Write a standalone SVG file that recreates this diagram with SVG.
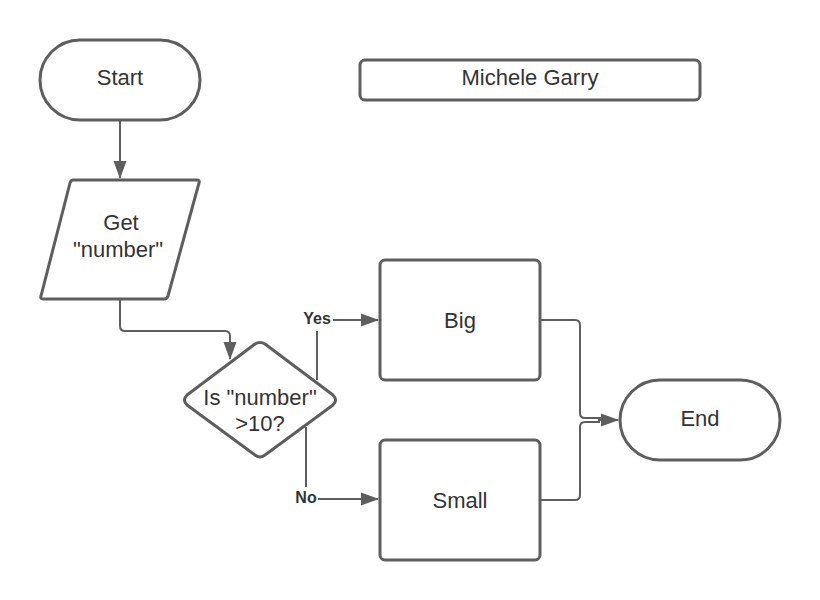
<svg xmlns="http://www.w3.org/2000/svg" width="820" height="600" viewBox="0 0 820 600">
<defs>
<marker id="ah" markerWidth="18" markerHeight="14" refX="17" refY="7" orient="auto" markerUnits="userSpaceOnUse" viewBox="0 0 18 14">
<path d="M0,0.5 L18,7 L0,13.5 Z" fill="#5e5e5e"/>
</marker>
<style>
.shape{fill:#fff;stroke:#5e5e5e;stroke-width:3;stroke-linejoin:round}
.conn{fill:none;stroke:#5e5e5e;stroke-width:2;stroke-linejoin:round}
.t{font-family:"Liberation Sans",Arial,sans-serif;font-size:22px;fill:#333;text-anchor:middle}
.lbl{font-family:"Liberation Sans",Arial,sans-serif;font-size:16px;font-weight:bold;fill:#333;text-anchor:middle}
</style>
</defs>
<rect width="820" height="600" fill="#fff"/>
<g id="connectors">
<path class="conn" d="M120,121 L120,178" marker-end="url(#ah)"/>
<path class="conn" d="M120,299 L120,326 Q120,331 125,331 L225,331 Q230,331 230,336 L230,359" marker-end="url(#ah)"/>
<path class="conn" d="M317,380 L317,331"/>
<path class="conn" d="M333,320 L378,320" marker-end="url(#ah)"/>
<path class="conn" d="M306,427 L306,487"/>
<path class="conn" d="M318,499 L378,499" marker-end="url(#ah)"/>
<path class="conn" d="M541,320 L575,320 Q580,320 580,325 L580,413 Q580,418 585,418 L610,418"/>
<path class="conn" d="M541,500 L575,500 Q580,500 580,495 L580,427 Q580,422 585,422 L600,422"/>
<path class="conn" d="M598,420 L618,420" marker-end="url(#ah)"/>
<text class="lbl" x="317" y="324">Yes</text>
<text class="lbl" x="306" y="503">No</text>
</g>
<g id="start">
<rect class="shape" x="40" y="40" width="160" height="80" rx="40" ry="40"/>
<text class="t" x="120" y="85">Start</text>
</g>
<g id="title">
<rect class="shape" x="360" y="60" width="340" height="40" rx="5" ry="5"/>
<text class="t" x="530" y="85">Michele Garry</text>
</g>
<g id="get">
<path class="shape" d="M73,180 L197,180 Q200,180 199,183 L168,296 Q167,299 164,299 L43,299 Q40,299 41,296 L70,183 Q71,180 73,180 Z"/>
<text class="t" x="121" y="230">Get</text>
<text class="t" x="118" y="257">"number"</text>
</g>
<g id="decision">
<path class="shape" d="M255,344 Q260,341 265,344 L333,395 Q338,400 333,405 L265,455 Q260,459 255,455 L187,405 Q182,400 187,395 Z"/>
<text class="t" x="260" y="405">Is "number"</text>
<text class="t" x="260" y="431">&gt;10?</text>
</g>
<g id="big">
<rect class="shape" x="380" y="260" width="160" height="120" rx="5" ry="5"/>
<text class="t" x="460" y="328">Big</text>
</g>
<g id="small">
<rect class="shape" x="380" y="440" width="160" height="120" rx="5" ry="5"/>
<text class="t" x="460" y="508">Small</text>
</g>
<g id="end">
<rect class="shape" x="620" y="380" width="160" height="80" rx="40" ry="40"/>
<text class="t" x="700" y="426">End</text>
</g>
</svg>
